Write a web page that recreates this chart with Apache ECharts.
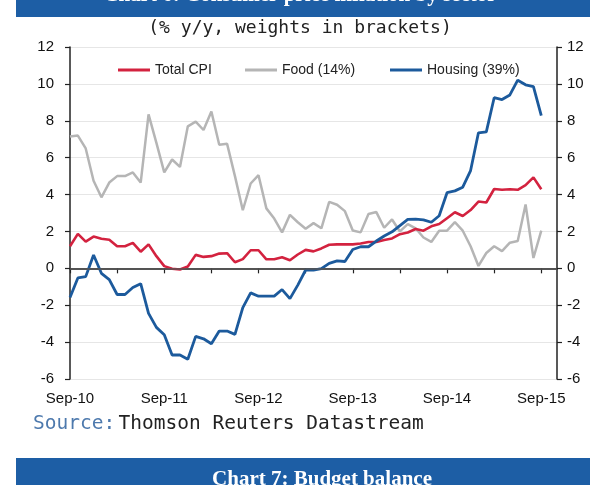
<!DOCTYPE html>
<html>
<head>
<meta charset="utf-8">
<script src="https://cdn.jsdelivr.net/npm/echarts@6/dist/echarts.min.js"></script>
<style>
html,body{margin:0;padding:0;background:#fff;}
#c{width:600px;height:485px;}
</style>
</head>
<body>
<div id="c"></div>
<script>
// Monthly categories Sep-10 .. Nov-15 (axis runs slightly past last data point)
const monthNames = ['Jan','Feb','Mar','Apr','May','Jun','Jul','Aug','Sep','Oct','Nov','Dec'];
const categories = [];
for (let k = 0; k < 63; k++) {
  const m = (8 + k) % 12;
  const y = 10 + Math.floor((8 + k) / 12);
  categories.push(monthNames[m] + '-' + y);
}

// Series values (% y/y), Sep-10 .. Sep-15
const totalCPI = [1.2,1.87,1.45,1.72,1.6,1.55,1.2,1.2,1.38,0.9,
  1.3,0.66,0.12,-0.02,-0.06,0.1,0.73,0.62,0.66,0.8,
  0.82,0.33,0.5,0.98,0.98,0.49,0.49,0.6,0.44,0.75,
  1.0,0.92,1.08,1.28,1.3,1.3,1.3,1.35,1.43,1.43,
  1.54,1.62,1.85,1.94,2.13,2.04,2.28,2.4,2.72,3.04,
  2.84,3.16,3.62,3.57,4.3,4.26,4.29,4.26,4.51,4.93,4.29];
const food = [7.15,7.2,6.5,4.75,3.85,4.65,5.0,5.0,5.2,4.65,
  8.35,6.8,5.2,5.9,5.5,7.7,7.95,7.5,8.5,6.7,
  6.75,5.0,3.15,4.6,5.05,3.25,2.7,1.95,2.9,2.5,
  2.15,2.45,2.17,3.6,3.45,3.1,2.05,1.95,2.95,3.05,
  2.2,2.65,2.0,2.4,2.17,1.67,1.43,2.04,2.04,2.5,
  2.04,1.2,0.13,0.83,1.2,0.93,1.39,1.48,3.46,0.56,2.04];
const housing = [-1.58,-0.52,-0.45,0.72,-0.27,-0.61,-1.42,-1.42,-1.04,-0.83,
  -2.44,-3.2,-3.6,-4.7,-4.7,-4.93,-3.69,-3.82,-4.09,-3.4,
  -3.4,-3.58,-2.13,-1.33,-1.51,-1.51,-1.51,-1.15,-1.64,-0.91,
  -0.09,-0.1,-0.02,0.27,0.4,0.37,1.02,1.17,1.17,1.48,
  1.75,1.98,2.32,2.65,2.67,2.63,2.5,2.85,4.1,4.2,
  4.4,5.3,7.35,7.4,9.25,9.15,9.4,10.2,9.95,9.85,8.28];

const seriesNames = ['Total CPI','Food (14%)','Housing (39%)'];
const colors = {cpi:'#d3223f', food:'#b5b5b5', housing:'#1c5a9c'};

const yMin = -6, yMax = 12, yStep = 2;

const chart = echarts.init(document.getElementById('c'), null, {renderer:'canvas'});

const axisFont = {fontFamily:'Liberation Sans, Arial, sans-serif', fontSize:15, color:'#111'};

function yAxisDef(pos, margin) {
  return {
    type:'value', position:pos, min:yMin, max:yMax, interval:yStep,
    axisLine:{show:true, lineStyle:{color:'#222', width:1.5}},
    axisTick:{show:true, length:5, lineStyle:{color:'#222', width:1.2}},
    axisLabel:Object.assign({margin:margin}, axisFont),
    splitLine:{show: pos === 'left', lineStyle:{color:'#e6e6e6', width:1}}
  };
}

const legendText = {fontFamily:'Liberation Sans, Arial, sans-serif', fontSize:14, color:'#222'};

const option = {
  animation:false,
  backgroundColor:'#fff',
  grid:{left:70, right:43, top:47, bottom:106, containLabel:false},
  legend:[
    {data:[seriesNames[0]], left:113, top:58, icon:'rect', itemWidth:32, itemHeight:3, itemGap:4, textStyle:legendText},
    {data:[seriesNames[1]], left:240, top:58, icon:'rect', itemWidth:32, itemHeight:3, itemGap:4, textStyle:legendText},
    {data:[seriesNames[2]], left:385, top:58, icon:'rect', itemWidth:32, itemHeight:3, itemGap:4, textStyle:legendText}
  ],
  xAxis:{
    type:'category', data:categories, boundaryGap:false,
    axisLine:{show:true, lineStyle:{color:'#222', width:1.5}},
    axisTick:{show:true, interval:5, length:5, lineStyle:{color:'#222', width:1.2}},
    axisLabel:Object.assign({interval:11, margin:12}, axisFont),
    splitLine:{show:false}
  },
  yAxis:[yAxisDef('left', 16), yAxisDef('right', 10)],
  series:[
    {name:seriesNames[1], type:'line', data:food, yAxisIndex:0, symbol:'none', smooth:false,
     lineStyle:{color:colors.food, width:2.5}, itemStyle:{color:colors.food}, z:2},
    {name:seriesNames[0], type:'line', data:totalCPI, yAxisIndex:0, symbol:'none', smooth:false,
     lineStyle:{color:colors.cpi, width:2.6}, itemStyle:{color:colors.cpi}, z:3,
     markLine:{silent:true, symbol:['none','none'], label:{show:false},
       lineStyle:{color:'#555', width:1.5, type:'solid'}, data:[{yAxis:0}]}},
    {name:seriesNames[2], type:'line', data:housing, yAxisIndex:0, symbol:'none', smooth:false,
     lineStyle:{color:colors.housing, width:2.8}, itemStyle:{color:colors.housing}, z:4}
  ],
  graphic:[
    {type:'rect', shape:{x:16, y:0, width:574, height:17}, style:{fill:'#1d5ea5'}, z:10},
    {type:'text', x:300, y:-4, z:11,
     style:{text:'Chart 6: Consumer price inflation by sector', fill:'#fff',
       font:'bold 21px "Liberation Serif", "DejaVu Serif", serif', textAlign:'center', textVerticalAlign:'middle'}},
    {type:'text', x:300, y:28, z:11,
     style:{text:'(% y/y, weights in brackets)', fill:'#222',
       font:'18px "DejaVu Sans Mono", "Liberation Mono", monospace', textAlign:'center', textVerticalAlign:'middle'}},
    {type:'text', x:33, y:424, z:11,
     style:{text:'{a|Source:} {b|Thomson Reuters Datastream}', textVerticalAlign:'middle',
       rich:{
         a:{fill:'#4d79ad', font:'19.5px "DejaVu Sans Mono", "Liberation Mono", monospace'},
         b:{fill:'#222', font:'19.5px "DejaVu Sans Mono", "Liberation Mono", monospace'}
       }}},
    {type:'rect', shape:{x:16, y:458, width:574, height:40}, style:{fill:'#1d5ea5'}, z:10},
    {type:'text', x:322, y:469, z:11,
     style:{text:'Chart 7: Budget balance', fill:'#fff',
       font:'bold 21px "Liberation Serif", "DejaVu Serif", serif', textAlign:'center', textVerticalAlign:'top'}}
  ]
};
chart.setOption(option);
</script>
</body>
</html>
